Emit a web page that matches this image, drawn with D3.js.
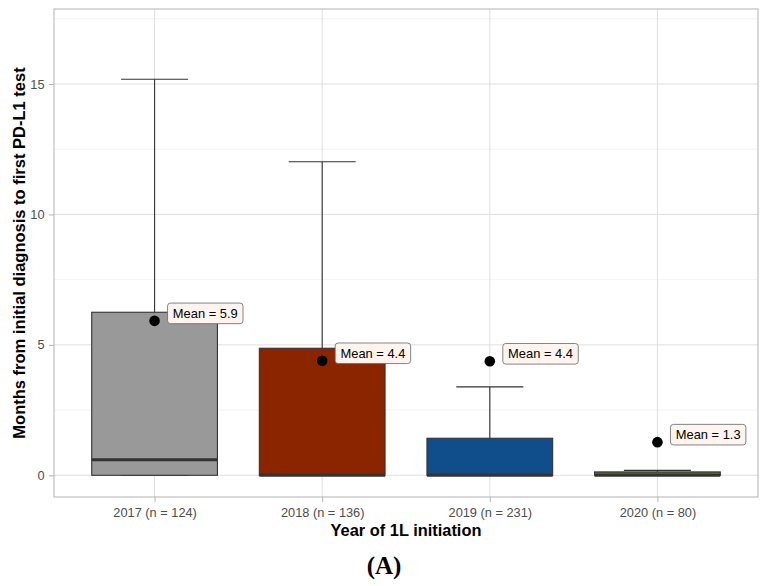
<!DOCTYPE html>
<html>
<head>
<meta charset="utf-8">
<script src="https://cdn.jsdelivr.net/npm/d3@7"></script>
<style>
  html, body { margin: 0; padding: 0; background: #ffffff; }
  svg { display: block; }
</style>
</head>
<body>
<svg id="chart" width="766" height="586" font-family="'Liberation Sans', Arial, sans-serif"></svg>
<script>
// ---- Data ----
const categories = ["2017 (n = 124)", "2018 (n = 136)", "2019 (n = 231)", "2020 (n = 80)"];
const q1 = [0, 0, 0, 0];
const medians = [0.6, 0, 0, 0];
const q3 = [6.25, 4.87, 1.42, 0.13];
const whiskerLow = [0, 0, 0, 0];
const whiskerHigh = [15.18, 12.02, 3.39, 0.19];
const means = [5.92, 4.39, 4.37, 1.27];
const meanLabels = ["Mean = 5.9", "Mean = 4.4", "Mean = 4.4", "Mean = 1.3"];
const fillColors = ["#999999", "#8B2500", "#104E8B", "#556B2F"];
const yTicks = [0, 5, 10, 15];
const yMinorTicks = [2.5, 7.5, 12.5, 17.5];
const xTitle = "Year of 1L initiation";
const yTitle = "Months from initial diagnosis to first PD-L1 test";
const caption = "(A)";

// ---- Layout ----
const sans = "'Liberation Sans', Arial, sans-serif";
const serif = "'Liberation Serif', 'Times New Roman', serif";
const panel = { left: 54, right: 758, top: 9, bottom: 497 };
const svg = d3.select("#chart");

const x = d3.scalePoint().domain(categories).range([panel.left, panel.right]).padding(0.6);
const y = d3.scaleLinear().domain([-0.832, 17.875]).range([panel.bottom, panel.top]);
const step = x.step();
const boxW = 0.75 * step;
const capW = 0.4 * step;

// grid
const grid = svg.append("g");
grid.selectAll(".minor").data(yMinorTicks).join("line")
  .attr("x1", panel.left).attr("x2", panel.right)
  .attr("y1", d => y(d)).attr("y2", d => y(d))
  .attr("stroke", "#EBEBEB").attr("stroke-width", 0.6);
grid.selectAll(".major").data(yTicks).join("line")
  .attr("x1", panel.left).attr("x2", panel.right)
  .attr("y1", d => y(d)).attr("y2", d => y(d))
  .attr("stroke", "#DEDEDE").attr("stroke-width", 1);
grid.selectAll(".vmajor").data(categories).join("line")
  .attr("x1", d => x(d)).attr("x2", d => x(d))
  .attr("y1", panel.top).attr("y2", panel.bottom)
  .attr("stroke", "#DEDEDE").attr("stroke-width", 1);

const rows = categories.map((c, i) => ({
  c, q1: q1[i], med: medians[i], q3: q3[i], lo: whiskerLow[i], hi: whiskerHigh[i],
  mean: means[i], label: meanLabels[i], fill: fillColors[i]
}));

// whiskers (errorbar style)
const wg = svg.append("g").attr("stroke", "#333333").attr("stroke-width", 1.1).attr("fill", "none");
rows.forEach(r => {
  const cx = x(r.c);
  wg.append("line").attr("x1", cx).attr("x2", cx).attr("y1", y(r.q3)).attr("y2", y(r.hi));
  wg.append("line").attr("x1", cx - capW / 2).attr("x2", cx + capW / 2).attr("y1", y(r.hi)).attr("y2", y(r.hi));
  wg.append("line").attr("x1", cx - capW / 2).attr("x2", cx + capW / 2).attr("y1", y(r.lo)).attr("y2", y(r.lo));
});

// boxes
const bg = svg.append("g");
rows.forEach(r => {
  const cx = x(r.c);
  bg.append("rect")
    .attr("x", cx - boxW / 2).attr("width", boxW)
    .attr("y", y(r.q3)).attr("height", Math.max(0, y(r.q1) - y(r.q3)))
    .attr("fill", r.fill).attr("stroke", "#333333").attr("stroke-width", 1.1);
  bg.append("line")
    .attr("x1", cx - boxW / 2).attr("x2", cx + boxW / 2)
    .attr("y1", y(r.med)).attr("y2", y(r.med))
    .attr("stroke", "#333333").attr("stroke-width", 3);
});

// mean points
svg.append("g").selectAll("circle").data(rows).join("circle")
  .attr("cx", d => x(d.c)).attr("cy", d => y(d.mean)).attr("r", 5.3)
  .attr("fill", "#000000");

// mean labels
const lg = svg.append("g");
rows.forEach(r => {
  const lx = x(r.c) + 13;
  const cy = y(r.mean) - 7.5;
  const g = lg.append("g");
  const t = g.append("text")
    .attr("x", lx + 5.3).attr("y", cy)
    .attr("dy", "0.36em")
    .style("font-family", sans).style("font-size", "12.9px")
    .attr("fill", "#000000")
    .text(r.label);
  const w = t.node().getComputedTextLength();
  g.insert("rect", "text")
    .attr("x", lx).attr("y", cy - 10.3)
    .attr("width", w + 10.6).attr("height", 20.6)
    .attr("rx", 3).attr("ry", 3)
    .attr("fill", "#FFF5EE").attr("stroke", "#666666").attr("stroke-width", 0.8);
});

// panel border
svg.append("rect")
  .attr("x", panel.left).attr("y", panel.top)
  .attr("width", panel.right - panel.left).attr("height", panel.bottom - panel.top)
  .attr("fill", "none").attr("stroke", "#B3B3B3").attr("stroke-width", 1);

// axes
const yAxis = svg.append("g").attr("transform", `translate(${panel.left},0)`)
  .call(d3.axisLeft(y).tickValues(yTicks).tickSize(5).tickPadding(4.5).tickFormat(d3.format("d")));
yAxis.select(".domain").remove();
yAxis.selectAll(".tick line").attr("stroke", "#B3B3B3");
yAxis.selectAll(".tick text").attr("fill", "#4D4D4D")
  .style("font-family", sans).style("font-size", "12.8px");

const xAxis = svg.append("g").attr("transform", `translate(0,${panel.bottom})`)
  .call(d3.axisBottom(x).tickSize(5).tickPadding(5.5));
xAxis.select(".domain").remove();
xAxis.selectAll(".tick line").attr("stroke", "#B3B3B3");
xAxis.selectAll(".tick text").attr("fill", "#4D4D4D")
  .style("font-family", sans).style("font-size", "12.8px");

// titles
svg.append("text")
  .attr("x", (panel.left + panel.right) / 2).attr("y", 536)
  .attr("text-anchor", "middle")
  .style("font-family", sans).style("font-weight", "bold").style("font-size", "16.4px")
  .attr("fill", "#000000").text(xTitle);

svg.append("text")
  .attr("transform", `translate(25,${(panel.top + panel.bottom) / 2}) rotate(-90)`)
  .attr("text-anchor", "middle")
  .style("font-family", sans).style("font-weight", "bold").style("font-size", "16.5px")
  .attr("fill", "#000000").text(yTitle);

svg.append("text")
  .attr("x", 384).attr("y", 574)
  .attr("text-anchor", "middle")
  .style("font-family", serif).style("font-weight", "bold").style("font-size", "25px")
  .attr("fill", "#000000").text(caption);
</script>
</body>
</html>
